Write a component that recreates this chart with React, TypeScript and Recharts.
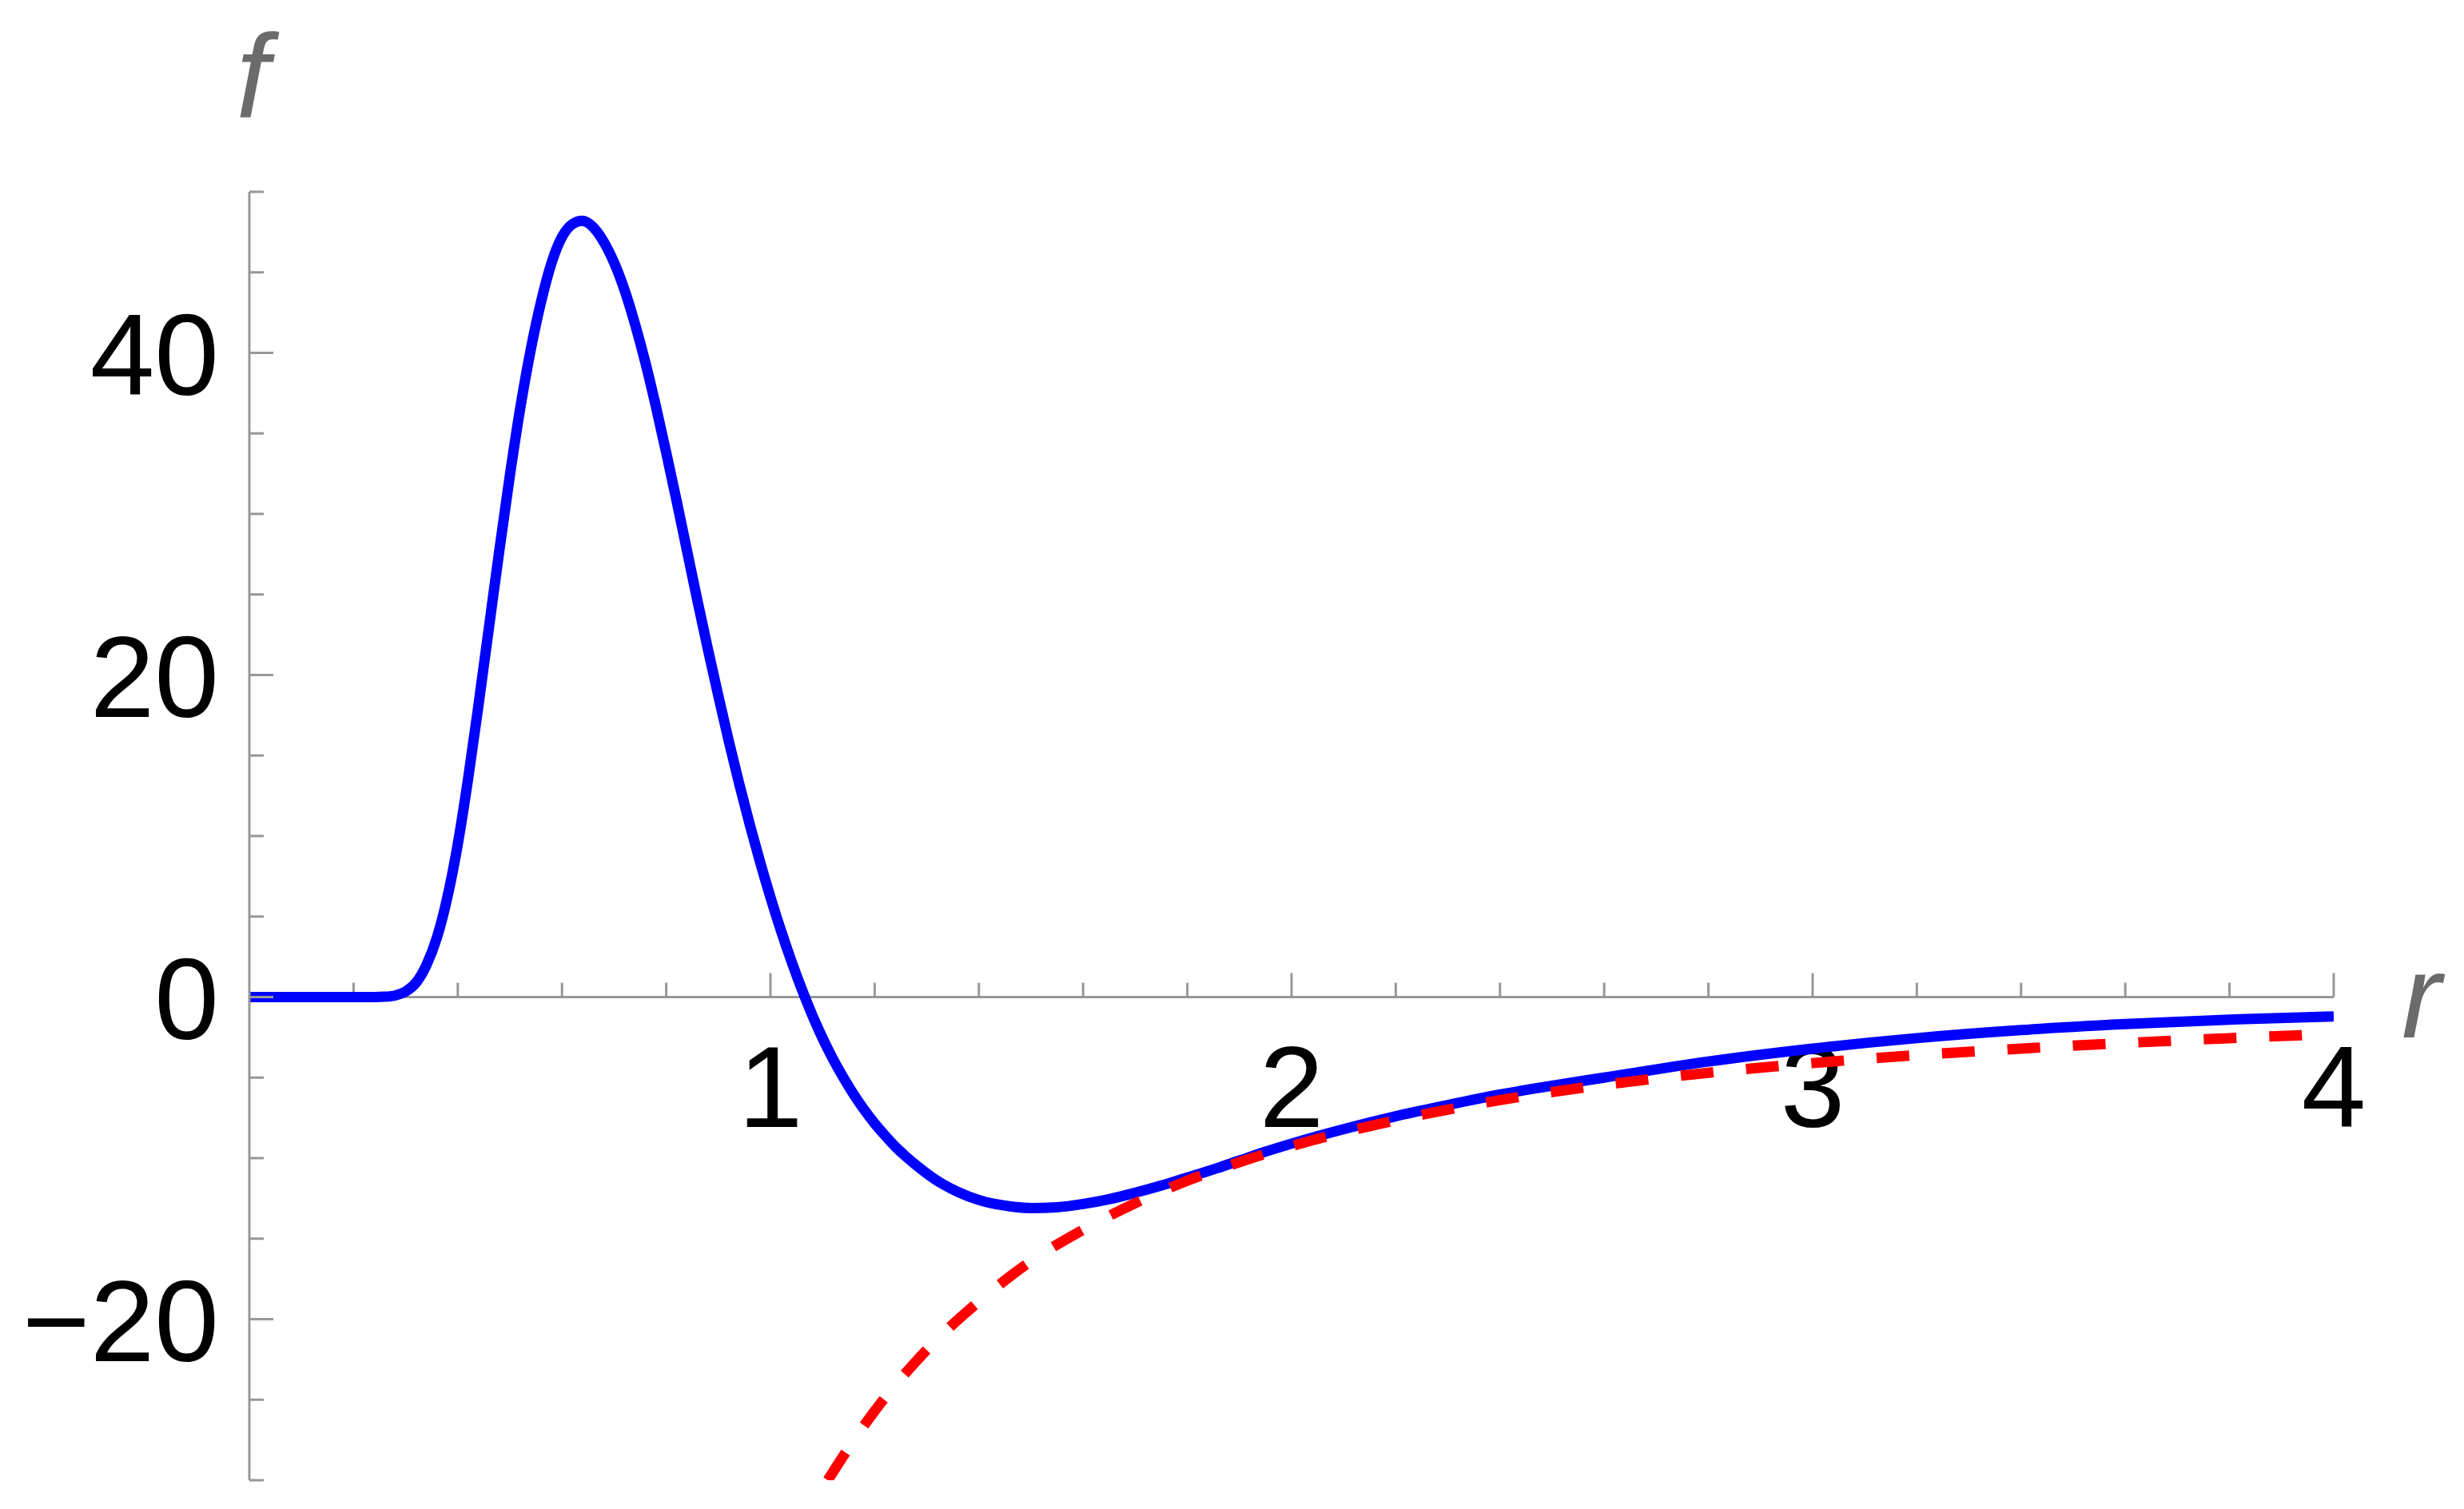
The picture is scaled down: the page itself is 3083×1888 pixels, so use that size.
import { LineChart, Line, XAxis, YAxis, ReferenceLine } from "recharts";

// blue curve f(r)
const blueR = [
  0, 0.1, 0.2, 0.24, 0.26, 0.28, 0.3, 0.32, 0.34, 0.36, 0.38, 0.4, 0.42, 0.44, 0.46, 0.48, 0.5, 0.52, 0.54,
  0.56, 0.58, 0.6, 0.62, 0.6385, 0.66, 0.68, 0.7, 0.72, 0.74, 0.76, 0.78, 0.8, 0.82, 0.84, 0.86, 0.88, 0.9,
  0.92, 0.94, 0.96, 0.98, 1.0, 1.02, 1.04, 1.06, 1.08, 1.1, 1.12, 1.14, 1.16, 1.18, 1.2, 1.22, 1.24, 1.26,
  1.28, 1.3, 1.33, 1.36, 1.4, 1.45, 1.5, 1.55, 1.6, 1.65, 1.7, 1.75, 1.8, 1.85, 1.9, 1.95, 2.0, 2.1, 2.2,
  2.3, 2.4, 2.5, 2.6, 2.8, 3.0, 3.2, 3.4, 3.6, 3.8, 4.0,
];
const blueF = [
  0, 0, 0, 0, 0.02, 0.1, 0.35, 0.9, 2.0, 3.7, 6.2, 9.5, 13.6, 18.2, 23.0, 27.8, 32.4, 36.6, 40.2,
  43.2, 45.6, 47.2, 48.0, 48.2, 47.8, 46.9, 45.6, 43.9, 41.8, 39.4, 36.7, 33.8, 30.8, 27.7, 24.6, 21.6, 18.7,
  15.9, 13.25, 10.75, 8.4, 6.2, 4.15, 2.25, 0.5, -1.1, -2.55, -3.85, -5.0, -6.05, -7.0, -7.85, -8.6, -9.3, -9.9,
  -10.45, -10.95, -11.6, -12.1, -12.6, -12.95, -13.1, -13.05, -12.85, -12.55, -12.15, -11.7, -11.2, -10.7, -10.15, -9.6, -9.1, -8.2, -7.4,
  -6.7, -6.05, -5.5, -5.0, -4.0, -3.2, -2.55, -2.05, -1.68, -1.4, -1.2,
];

// red dashed curve
const redR = [1.11, 1.15, 1.2, 1.25, 1.3, 1.4, 1.5, 1.6, 1.7, 1.8, 1.9, 2.0, 2.2, 2.4, 2.6, 2.8, 3.0, 3.2, 3.4, 3.6, 3.8, 4.0];
const redF = [-30, -28.0, -25.7, -23.7, -21.9, -18.9, -16.4, -14.45, -12.8, -11.4, -10.25, -9.25, -7.65, -6.4, -5.45, -4.7, -4.1, -3.6, -3.2, -2.85, -2.55, -2.3];

const yTicks = [-30, -25, -20, -15, -10, -5, 0, 5, 10, 15, 20, 25, 30, 35, 40, 45, 50];
const yLabelTicks = [-20, 0, 20, 40];
const xTicks = [0.2, 0.4, 0.6, 0.8, 1, 1.2, 1.4, 1.6, 1.8, 2, 2.2, 2.4, 2.6, 2.8, 3, 3.2, 3.4, 3.6, 3.8, 4];
const xLabelTicks = [1, 2, 3, 4];

const blueData = blueR.map((r, i) => ({ r, f: blueF[i] }));
const redData = redR.map((r, i) => ({ r, f: redF[i] }));

const AXIS = "#979797";
const FONT = "'Liberation Sans', Arial, sans-serif";
const LABEL_SIZE = 145;

function fmt(v: number) {
  return v < 0 ? `\u2212${-v}` : `${v}`;
}

function YTick(props: any) {
  const { x, y, payload } = props;
  const major = yLabelTicks.includes(payload.value);
  return (
    <g>
      <line x1={x} x2={x + (major ? 30 : 18)} y1={y} y2={y} stroke={AXIS} strokeWidth={3} />
      {major && (
        <text x={x - 38} y={y + 52} textAnchor="end" fontSize={LABEL_SIZE} fontFamily={FONT} fill="#000">
          {fmt(payload.value)}
        </text>
      )}
    </g>
  );
}

function FLabel(props: any) {
  const vb = props.viewBox || {};
  return (
    <text x={vb.x + vb.width + 4} y={vb.y - 93} textAnchor="middle" fontSize={148} fontStyle="italic" fontFamily={FONT} fill="#6b6b6b">
      f
    </text>
  );
}

function RLabel(props: any) {
  const vb = props.viewBox || {};
  return (
    <text x={vb.x + vb.width + 85} y={vb.y + 50} fontSize={148} fontStyle="italic" fontFamily={FONT} fill="#6b6b6b">
      r
    </text>
  );
}

function xTickLabel(value: number) {
  return (props: any) => {
    const vb = props.viewBox || {};
    return (
      <text x={vb.x} y={vb.y + vb.height + 162} textAnchor="middle" fontSize={LABEL_SIZE} fontFamily={FONT} fill="#000">
        {fmt(value)}
      </text>
    );
  };
}

export default function App() {
  return (
    <div style={{ position: "absolute", left: 0, top: 0, background: "#fff" }}>
      <LineChart width={3083} height={1888} margin={{ top: 240, right: 163, bottom: 36, left: 0 }}>
        <XAxis type="number" dataKey="r" domain={[0, 4]} hide allowDataOverflow />
        <YAxis
          type="number"
          domain={[-30, 50]}
          ticks={yTicks}
          interval={0}
          allowDataOverflow
          width={312}
          tickSize={0}
          tickMargin={0}
          tickLine={false}
          axisLine={{ stroke: AXIS, strokeWidth: 3 }}
          tick={<YTick />}
          label={FLabel}
        />

        {/* x axis drawn at f = 0 */}
        <ReferenceLine y={0} stroke={AXIS} strokeWidth={3} label={RLabel} />
        {xTicks.map((t) => {
          const major = xLabelTicks.includes(t);
          return (
            <ReferenceLine
              key={t}
              segment={[
                { x: t, y: 0 },
                { x: t, y: major ? 1.49 : 0.89 },
              ]}
              stroke={AXIS}
              strokeWidth={3}
              label={major ? xTickLabel(t) : undefined}
            />
          );
        })}

        <Line
          data={blueData}
          dataKey="f"
          type="monotone"
          stroke="#0000ff"
          strokeWidth={13}
          dot={false}
          activeDot={false}
          isAnimationActive={false}
        />
        <Line
          data={redData}
          dataKey="f"
          type="monotone"
          stroke="#ff0000"
          strokeWidth={13}
          strokeDasharray="41 41"
          dot={false}
          activeDot={false}
          isAnimationActive={false}
        />
      </LineChart>
    </div>
  );
}
